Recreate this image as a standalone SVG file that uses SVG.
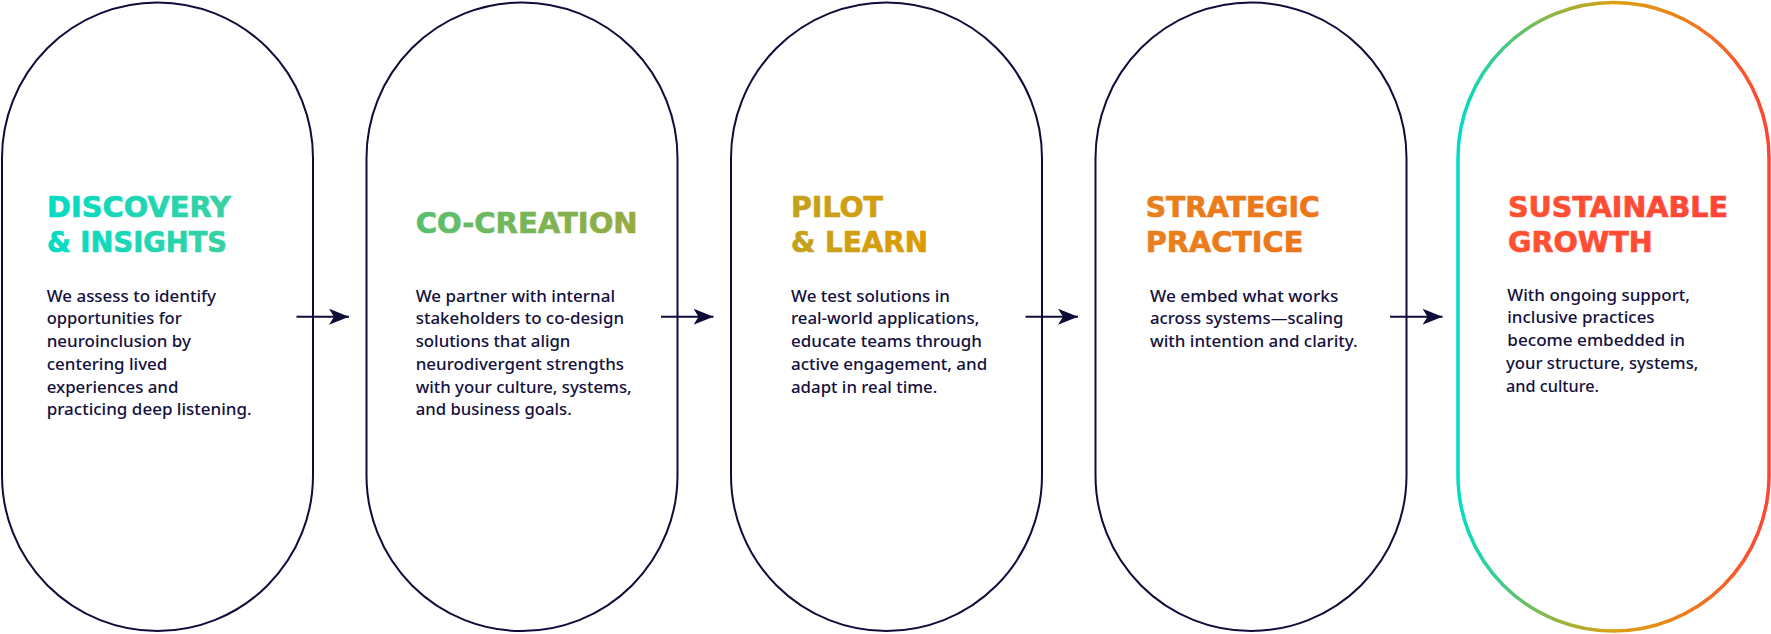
<svg xmlns="http://www.w3.org/2000/svg" width="1771" height="634" viewBox="0 0 1771 634">
<style>
.cap{fill:#fff;stroke:#0f0c3a;stroke-width:2}
.title{font-family:"DejaVu Sans","Liberation Sans",sans-serif;font-weight:700;font-size:28px;fill:url(#tg);stroke:url(#tg);stroke-width:0.7}
.body{font-family:"Noto Sans","Liberation Sans",sans-serif;font-weight:500;font-size:16.5px;fill:#13103d}
.conn{stroke:#0f0c3a;stroke-width:2;fill:none}
</style>
<defs>
<linearGradient id="tg" gradientUnits="userSpaceOnUse" x1="0" y1="0" x2="1771" y2="0">
<stop offset="0.02" stop-color="#00dcc8"/>
<stop offset="0.13" stop-color="#3ad0a0"/>
<stop offset="0.235" stop-color="#58c070"/>
<stop offset="0.36" stop-color="#98aa3e"/>
<stop offset="0.445" stop-color="#c2a220"/>
<stop offset="0.525" stop-color="#e09a02"/>
<stop offset="0.645" stop-color="#e8801e"/>
<stop offset="0.75" stop-color="#ee7418"/>
<stop offset="0.85" stop-color="#ff5232"/>
<stop offset="0.98" stop-color="#ff4436"/>
</linearGradient>
<linearGradient id="cg" gradientUnits="userSpaceOnUse" x1="1458" y1="0" x2="1769" y2="0">
<stop offset="0" stop-color="#00dcc8"/>
<stop offset="0.28" stop-color="#86b848"/>
<stop offset="0.5" stop-color="#dca010"/>
<stop offset="0.75" stop-color="#ef7a1a"/>
<stop offset="1" stop-color="#ff4436"/>
</linearGradient>
<marker id="ah" markerUnits="userSpaceOnUse" markerWidth="22" markerHeight="18" refX="20" refY="8" orient="auto">
<path d="M0,0 L20,8 L0,16 L5,8 Z" fill="#0f0c3a"/>
</marker>
</defs>

<g id="node-discovery">
<rect class="cap" x="2" y="2.5" width="311" height="628.5" rx="155.5" ry="155.5"/>
<text class="title" x="47" y="216.7" textLength="184" lengthAdjust="spacingAndGlyphs">DISCOVERY</text>
<text class="title" x="47" y="251.7" textLength="180" lengthAdjust="spacingAndGlyphs">&amp; INSIGHTS</text>
<text class="body" x="46.7" y="301.7" textLength="169.3" lengthAdjust="spacingAndGlyphs">We assess to identify</text>
<text class="body" x="46.7" y="324.4" textLength="135" lengthAdjust="spacingAndGlyphs">opportunities for</text>
<text class="body" x="46.7" y="347.1" textLength="144.3" lengthAdjust="spacingAndGlyphs">neuroinclusion by</text>
<text class="body" x="46.7" y="369.8" textLength="120.7" lengthAdjust="spacingAndGlyphs">centering lived</text>
<text class="body" x="46.7" y="392.5" textLength="131.7" lengthAdjust="spacingAndGlyphs">experiences and</text>
<text class="body" x="46.7" y="415.2" textLength="205" lengthAdjust="spacingAndGlyphs">practicing deep listening.</text>
</g>

<g id="node-cocreation">
<rect class="cap" x="366.5" y="2.5" width="311" height="628.5" rx="155.5" ry="155.5"/>
<text class="title" x="415.7" y="232.7" textLength="222" lengthAdjust="spacingAndGlyphs">CO-CREATION</text>
<text class="body" x="415.7" y="301.7" textLength="199.3" lengthAdjust="spacingAndGlyphs">We partner with internal</text>
<text class="body" x="415.7" y="324.4" textLength="208.3" lengthAdjust="spacingAndGlyphs">stakeholders to co-design</text>
<text class="body" x="415.7" y="347.1" textLength="154.7" lengthAdjust="spacingAndGlyphs">solutions that align</text>
<text class="body" x="415.7" y="369.8" textLength="208.3" lengthAdjust="spacingAndGlyphs">neurodivergent strengths</text>
<text class="body" x="415.7" y="392.5" textLength="216" lengthAdjust="spacingAndGlyphs">with your culture, systems,</text>
<text class="body" x="415.7" y="415.2" textLength="156" lengthAdjust="spacingAndGlyphs">and business goals.</text>
</g>

<g id="node-pilot">
<rect class="cap" x="731" y="2.5" width="311" height="628.5" rx="155.5" ry="155.5"/>
<text class="title" x="791" y="216.7" textLength="92" lengthAdjust="spacingAndGlyphs">PILOT</text>
<text class="title" x="791" y="251.7" textLength="137" lengthAdjust="spacingAndGlyphs">&amp; LEARN</text>
<text class="body" x="791" y="301.7" textLength="159" lengthAdjust="spacingAndGlyphs">We test solutions in</text>
<text class="body" x="791" y="324.4" textLength="188.3" lengthAdjust="spacingAndGlyphs">real-world applications,</text>
<text class="body" x="791" y="347.1" textLength="191" lengthAdjust="spacingAndGlyphs">educate teams through</text>
<text class="body" x="791" y="369.8" textLength="196.3" lengthAdjust="spacingAndGlyphs">active engagement, and</text>
<text class="body" x="791" y="392.5" textLength="146.3" lengthAdjust="spacingAndGlyphs">adapt in real time.</text>
</g>

<g id="node-strategic">
<rect class="cap" x="1095.5" y="2.5" width="311" height="628.5" rx="155.5" ry="155.5"/>
<text class="title" x="1145.7" y="216.7" textLength="174" lengthAdjust="spacingAndGlyphs">STRATEGIC</text>
<text class="title" x="1145.7" y="251.7" textLength="157.6" lengthAdjust="spacingAndGlyphs">PRACTICE</text>
<text class="body" x="1150" y="301.7" textLength="188.3" lengthAdjust="spacingAndGlyphs">We embed what works</text>
<text class="body" x="1150" y="324.4" textLength="193.3" lengthAdjust="spacingAndGlyphs">across systems—scaling</text>
<text class="body" x="1150" y="347.1" textLength="207.7" lengthAdjust="spacingAndGlyphs">with intention and clarity.</text>
</g>

<g id="node-sustainable">
<rect x="1458" y="2.5" width="311" height="628.5" rx="155.5" ry="155.5" fill="#fff" stroke="url(#cg)" stroke-width="3.5"/>
<text class="title" x="1508" y="217.3" textLength="220" lengthAdjust="spacingAndGlyphs">SUSTAINABLE</text>
<text class="title" x="1508" y="251.7" textLength="144.7" lengthAdjust="spacingAndGlyphs">GROWTH</text>
<text class="body" x="1507.3" y="300.7" textLength="182.7" lengthAdjust="spacingAndGlyphs">With ongoing support,</text>
<text class="body" x="1507.3" y="323.4" textLength="147.3" lengthAdjust="spacingAndGlyphs">inclusive practices</text>
<text class="body" x="1507.3" y="346.1" textLength="177.7" lengthAdjust="spacingAndGlyphs">become embedded in</text>
<text class="body" x="1506" y="368.8" textLength="192.3" lengthAdjust="spacingAndGlyphs">your structure, systems,</text>
<text class="body" x="1506" y="391.5" textLength="93" lengthAdjust="spacingAndGlyphs">and culture.</text>
</g>

<g id="connectors">
<path class="conn" d="M296.5,316.7 H349" marker-end="url(#ah)"/>
<path class="conn" d="M661,316.7 H713.5" marker-end="url(#ah)"/>
<path class="conn" d="M1025.5,316.7 H1078" marker-end="url(#ah)"/>
<path class="conn" d="M1390,316.7 H1442.5" marker-end="url(#ah)"/>
</g>
</svg>
